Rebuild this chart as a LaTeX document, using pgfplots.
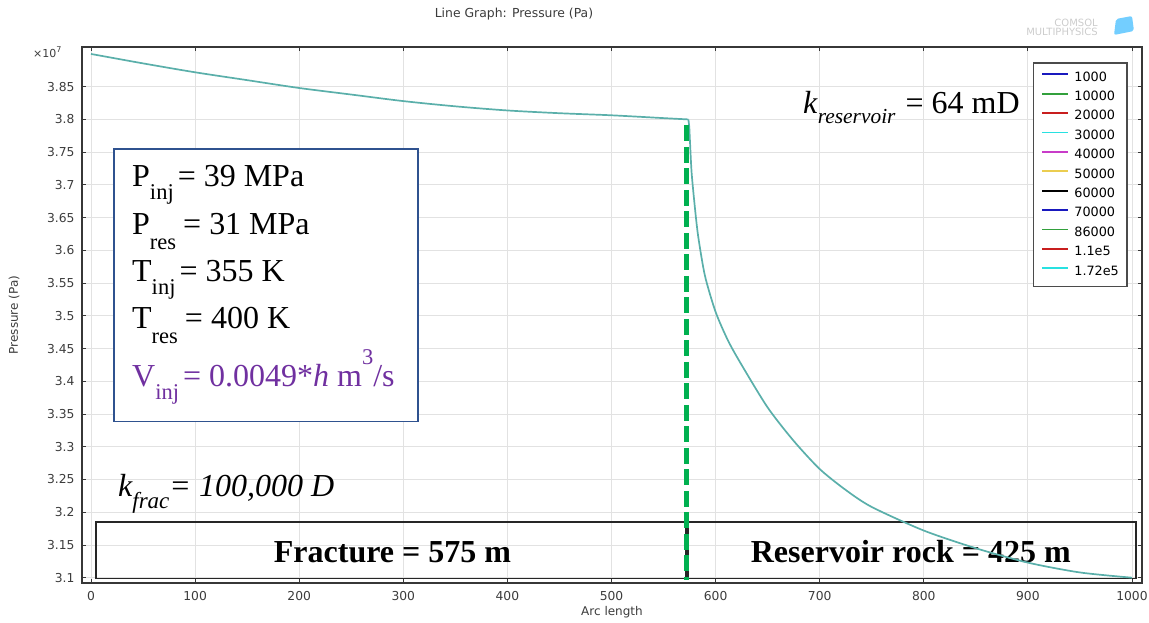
\documentclass[border=0pt]{standalone}
\usepackage{pgfplots}
\pgfplotsset{compat=1.18}
\usepackage{fontspec}
\setmainfont{Liberation Serif}
\newfontfamily\uifont{DejaVu Sans}
\definecolor{curvecol}{RGB}{90,175,170}
\definecolor{pptgreen}{RGB}{0,176,80}
\definecolor{boxblue}{RGB}{47,82,143}
\definecolor{ppurple}{RGB}{112,48,160}
\definecolor{gridgray}{RGB}{226,226,226}
\definecolor{axisgray}{RGB}{55,55,55}
\definecolor{ticktext}{RGB}{60,60,60}
\definecolor{cblue}{RGB}{25,25,190}
\definecolor{cgreen}{RGB}{50,160,60}
\definecolor{cred}{RGB}{200,30,30}
\definecolor{ccyan}{RGB}{40,225,225}
\definecolor{cmag}{RGB}{200,60,200}
\definecolor{cyel}{RGB}{235,205,80}
\newcommand{\fs}[1]{\fontsize{#1}{#1}\selectfont}

\begin{document}
\begin{tikzpicture}
\path[use as bounding box] (0pt,0pt) rectangle (1149pt,623pt);
\begin{axis}[
  at={(82pt,40pt)}, anchor=south west,
  scale only axis, width=1060pt, height=536pt,
  xmin=-8.646, xmax=1009.61, ymin=3.0919, ymax=3.91064,
  xtick={0,100,200,300,400,500,600,700,800,900,1000},
  ytick={3.1,3.15,3.2,3.25,3.3,3.35,3.4,3.45,3.5,3.55,3.6,3.65,3.7,3.75,3.8,3.85},
  grid=major, major grid style={gridgray, line width=0.8pt},
  axis line style={axisgray, line width=1.4pt},
  tick align=inside, major tick length=4pt,
  tick style={axisgray, line width=0.8pt},
  ticklabel style={font=\uifont\fs{12.3}, text=ticktext},
  xticklabel style={yshift=-4.5pt},
  yticklabel style={xshift=-4pt},
  /pgf/number format/assume math mode=true,
  /pgf/number format/set thousands separator={},
  legend style={at={(0.897,0.9714)}, anchor=north west,
    draw=axisgray!90, line width=1.5pt, fill=white,
    font=\uifont\fs{12.8}, inner xsep=8pt, inner ysep=8.5pt,
    row sep=6.9pt, column sep=5pt,
    nodes={inner sep=0pt, text height=9.5pt, text depth=3pt}},
  legend cell align=left,
  legend image code/.code={\draw[#1] (0pt,3.5pt) -- (26pt,3.5pt);},
]
% legend samples (all series coincide on the plot)
\addlegendimage{cblue, line width=1.8pt}
\addlegendentry{1000}
\addlegendimage{cgreen, line width=1.8pt}
\addlegendentry{10000}
\addlegendimage{cred, line width=1.8pt}
\addlegendentry{20000}
\addlegendimage{ccyan, line width=1.8pt}
\addlegendentry{30000}
\addlegendimage{cmag, line width=1.8pt}
\addlegendentry{40000}
\addlegendimage{cyel, line width=1.8pt}
\addlegendentry{50000}
\addlegendimage{black, line width=1.8pt}
\addlegendentry{60000}
\addlegendimage{cblue, line width=1.8pt}
\addlegendentry{70000}
\addlegendimage{cgreen, line width=1.8pt}
\addlegendentry{86000}
\addlegendimage{cred, line width=1.8pt}
\addlegendentry{1.1e5}
\addlegendimage{ccyan, line width=1.8pt}
\addlegendentry{1.72e5}

% region boxes
\draw[line width=1.3pt, black!85] (4.80,3.0989) rectangle (571.6,3.1853);
\draw[line width=1.3pt, black!85] (573.5,3.0989) rectangle (1003.8,3.1853);
\node[anchor=base, font=\bfseries\fs{32}] at (289.6,3.1235) {Fracture = 575 m};
\node[anchor=base, font=\bfseries\fs{32}] at (787.5,3.1235) {Reservoir rock = 425 m};

% pressure profile (units of 1e7 Pa): fracture part
\addplot[curvecol, line width=1.7pt, smooth, tension=0.5, forget plot] coordinates {
(0,3.900) (50,3.8856) (100,3.872) (150,3.860) (200,3.848) (250,3.838)
(300,3.828) (350,3.820) (400,3.8137) (450,3.8095) (500,3.8063) (550,3.802)
(573.8,3.800)
};
% reservoir part
\addplot[curvecol, line width=1.7pt, smooth, tension=0.45, forget plot] coordinates {
(573.8,3.800) (574.7,3.789) (575.4,3.766) (577.0,3.718) (580.2,3.664)
(583.4,3.620) (589.8,3.561) (600,3.506) (612,3.462) (625,3.425)
(650,3.360) (675,3.309) (700,3.266) (725,3.234) (750,3.208)
(800,3.172) (850,3.145) (900,3.123) (950,3.108) (1000,3.100)
};

% fracture / reservoir interface
\addplot[pptgreen, line width=5.5pt, dash pattern=on 16pt off 5.5pt, forget plot]
  coordinates {(572,3.791) (572,3.097)};
\end{axis}

% titles and labels
\node[font=\uifont\fs{12.4}, text=ticktext] at (514pt,609pt) {Line Graph: Pressure (Pa)};
\node[font=\uifont\fs{12}, text=ticktext] at (612pt,11pt) {Arc length};
\node[font=\uifont\fs{12}, text=ticktext, rotate=90] at (14pt,308pt) {Pressure (Pa)};
\node[anchor=base west, font=\uifont\fs{11}, text=ticktext, inner sep=0pt] at (33pt,565pt) {×10\raisebox{5pt}{\fs{8}7}};

% logo
\node[font=\uifont\fs{10}, text=gray!40, align=right, inner sep=0pt] at (1062pt,596pt) {COMSOL\\[-1pt]MULTIPHYSICS};
\fill[blue!35!cyan!55!white, rounded corners=2pt] (1114pt,588pt) -- (1134pt,592pt) -- (1132pt,607pt) -- (1116pt,604pt) -- cycle;

% parameter box
\draw[boxblue, line width=1.5pt, fill=white] (114pt,201.3pt) rectangle (418pt,474pt);
\begin{scope}[every node/.style={anchor=base west, inner sep=0pt, font=\fs{32}}]
\node at (132pt,436.3pt) {P\raisebox{-13pt}{\fs{22.5}inj}\hspace{4pt}= 39 MPa};
\node at (132pt,388pt) {P\raisebox{-15pt}{\fs{22.5}res}\hspace{7pt}= 31 MPa};
\node at (132pt,341.3pt) {T\raisebox{-13pt}{\fs{22.5}inj}\hspace{4pt}= 355 K};
\node at (132pt,294.7pt) {T\raisebox{-15pt}{\fs{22.5}res}\hspace{7pt}= 400 K};
\node[text=ppurple] at (132pt,236.3pt) {V\raisebox{-13pt}{\fs{22.5}inj}\hspace{4pt}= 0.0049*\textit{h} m\raisebox{22pt}{\fs{22.5}3}/s};
\end{scope}

% permeabilities
\node[anchor=base west, inner sep=0pt, font=\itshape\fs{32}] at (118pt,126.3pt) {k\raisebox{-11.6pt}{\fs{23}frac}= 100,000 D};
\node[anchor=base west, inner sep=0pt, font=\fs{32}] at (803pt,509.7pt) {\textit{k}\raisebox{-10pt}{\fs{21.4}\textit{reservoir}}\hspace{10pt}= 64 mD};
\end{tikzpicture}
\end{document}
